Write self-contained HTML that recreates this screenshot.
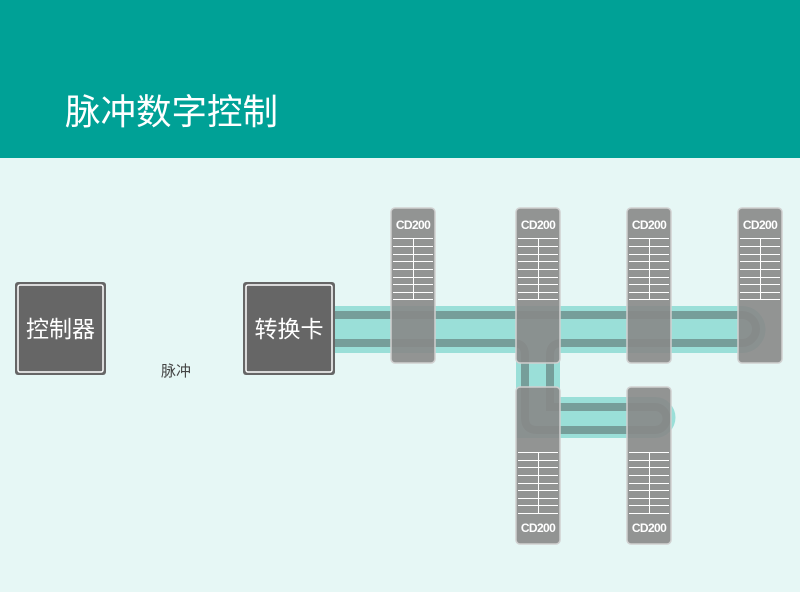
<!DOCTYPE html>
<html><head><meta charset="utf-8"><style>
body{margin:0;width:800px;height:592px;overflow:hidden;background:#e6f7f5;font-family:"Liberation Sans","Noto Sans CJK SC",sans-serif}
</style></head><body>
<svg width="800" height="592" xmlns="http://www.w3.org/2000/svg" style="position:absolute;left:0;top:0">
<rect x="0" y="0" width="800" height="158" fill="#00a196"/>
<text x="65" y="124" font-size="35.5" fill="#fff" font-family="Liberation Sans,Noto Sans CJK SC,sans-serif">脉冲数字控制</text>
<rect x="0" y="158" width="800" height="434" fill="#e6f7f5"/>

<rect x="15" y="282" width="91" height="93" rx="3" fill="#666" />
<rect x="18" y="285" width="85" height="87" rx="2" fill="none" stroke="#fff" stroke-width="1.5"/>
<text x="60.5" y="337" font-size="23" fill="#fff" text-anchor="middle" font-family="Liberation Sans,Noto Sans CJK SC,sans-serif">控制器</text>
<rect x="243" y="282" width="92" height="93" rx="3" fill="#666" />
<rect x="246" y="285" width="86" height="87" rx="2" fill="none" stroke="#fff" stroke-width="1.5"/>
<text x="289" y="337" font-size="23" fill="#fff" text-anchor="middle" font-family="Liberation Sans,Noto Sans CJK SC,sans-serif">转换卡</text>
<text x="176" y="376" font-size="15" fill="#444" text-anchor="middle" font-family="Liberation Sans,Noto Sans CJK SC,sans-serif">脉冲</text>

<g fill="#9adfd8">
<path d="M335 306 H742 A23.5 23.5 0 0 1 742 353 H560 V397 H655 A20.5 20.5 0 0 1 655 438 H516 V353 H335 Z"/>
</g>
<g fill="none" stroke="#6a8886" stroke-width="8" opacity="0.75">
<path d="M335 315 H742 A14 14 0 0 1 742 343 H562 Q550 343 550 355 V407 H655 A11.5 11.5 0 0 1 655 430 H537 Q525 430 525 418 V355 Q525 343 513 343 H335"/>
</g>

<g fill="#888" fill-opacity="0.9" stroke="#d0d0d0" stroke-width="1.5">
<rect x="391" y="208" width="44" height="155" rx="4"/>
<rect x="516" y="208" width="44" height="155" rx="4"/>
<rect x="627" y="208" width="44" height="155" rx="4"/>
<rect x="738" y="208" width="44" height="155" rx="4"/>
<rect x="516" y="387" width="44" height="157" rx="4"/>
<rect x="627" y="387" width="44" height="157" rx="4"/>
</g>

<g font-size="12" font-weight="bold" fill="#fff" text-anchor="middle" font-family="Liberation Sans,sans-serif" letter-spacing="-0.6">
<text x="413" y="229">CD200</text>
<text x="538" y="229">CD200</text>
<text x="649" y="229">CD200</text>
<text x="760" y="229">CD200</text>
<text x="538" y="532">CD200</text>
<text x="649" y="532">CD200</text>
</g>

<g stroke="#fff" stroke-width="1" fill="none">
<path d="M393 238.5H433M393 246.5H433M393 254.5H433M393 261.5H433M393 269.5H433M393 277.5H433M393 284.5H433M393 292.5H433M393 299.5H433M413.5 238V299"/>
<path d="M518 238.5H558M518 246.5H558M518 254.5H558M518 261.5H558M518 269.5H558M518 277.5H558M518 284.5H558M518 292.5H558M518 299.5H558M538.5 238V299"/>
<path d="M629 238.5H669M629 246.5H669M629 254.5H669M629 261.5H669M629 269.5H669M629 277.5H669M629 284.5H669M629 292.5H669M629 299.5H669M649.5 238V299"/>
<path d="M740 238.5H780M740 246.5H780M740 254.5H780M740 261.5H780M740 269.5H780M740 277.5H780M740 284.5H780M740 292.5H780M740 299.5H780M760.5 238V299"/>
<path d="M518 452.5H558M518 460.5H558M518 467.5H558M518 475.5H558M518 483.5H558M518 490.5H558M518 498.5H558M518 505.5H558M518 513.5H558M538.5 452V513"/>
<path d="M629 452.5H669M629 460.5H669M629 467.5H669M629 475.5H669M629 483.5H669M629 490.5H669M629 498.5H669M629 505.5H669M629 513.5H669M649.5 452V513"/>
</g>
</svg>
</body></html>
